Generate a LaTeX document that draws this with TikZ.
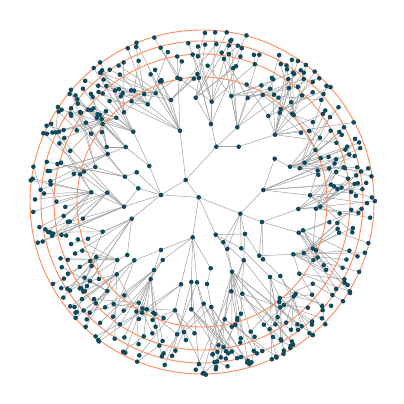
\documentclass[tikz,border=0pt]{standalone}
\definecolor{nodecol}{HTML}{0F4A5C}
\definecolor{ringcol}{HTML}{FF8A5B}
\definecolor{edgecol}{HTML}{A0A0A0}
\tikzset{
  dot/.style={circle,fill=nodecol,draw=none,inner sep=0pt,minimum size=4.6pt},
  edge/.style={draw=edgecol,line width=0.5pt},
  ring/.style={draw=ringcol,line width=0.9pt}
}
\gdef\alldots{}
\protected\def\dotat#1{\node[dot] (#1-dot) at (#1) {};}
\newcommand\adddot[1]{\xdef\alldots{\alldots\dotat{#1}}}
\newcommand\hubnode[5]{%
  \coordinate (#1) at (#2,#3);
  \adddot{#1}%
  \draw[edge] (#4) -- (#1);
  \pgfmathsetmacro\hubang{atan2(#3-202,#2-202)}
  \foreach \i in {1,...,#5}{%
    \pgfmathsetmacro\leafang{\hubang+(rnd-0.5)*40}
    \pgfmathsetmacro\leafrad{119+44*rnd}
    \pgfmathsetmacro\leafx{202+\leafrad*cos(\leafang)}
    \pgfmathsetmacro\leafy{202+\leafrad*sin(\leafang)}
    \coordinate (#1-\i) at (\leafx,\leafy);
    \adddot{#1-\i}%
    \pgfmathtruncatemacro\leafpar{rnd<0.3 ? 1 : 0}
    \ifnum\leafpar=1
      \draw[edge] (#4) -- (#1-\i);
    \else
      \draw[edge] (#1) -- (#1-\i);
    \fi
    \pgfmathtruncatemacro\nsub{floor(rnd*3)}
    \ifnum\nsub>0
      \foreach \j in {1,...,\nsub}{%
        \pgfmathsetmacro\subang{\leafang+(rnd-0.5)*16}
        \pgfmathsetmacro\subrad{\leafrad+6+rnd*(168-\leafrad)}
        \pgfmathsetmacro\subx{202+\subrad*cos(\subang)}
        \pgfmathsetmacro\suby{202+\subrad*sin(\subang)}
        \coordinate (#1-\i-\j) at (\subx,\suby);
        \adddot{#1-\i-\j}%
        \pgfmathtruncatemacro\subpar{rnd<0.3 ? 2 : (rnd<0.55 ? 1 : 0)}
        \ifcase\subpar
          \draw[edge] (#1-\i) -- (#1-\i-\j);
        \or
          \draw[edge] (#1) -- (#1-\i-\j);
        \or
          \draw[edge] (#4) -- (#1-\i-\j);
        \fi
      }%
    \fi
  }%
}
\begin{document}
\begin{tikzpicture}[x=1pt,y=-1pt]
\useasboundingbox (0,0) rectangle (404,404);
\pgfmathsetseed{20240}
% inner structure
\foreach \n/\x/\y in {R/198.7/197.3,
  a1/185.7/180, a2/161/195, a3/240.3/213.7, a4/192.7/237.3, a5/215.7/234.7,
  b1/180/130.7, b2/216.3/146.7, b3/238.7/146.7,
  c1/149.3/166, c2/138.3/188.3, c3/136.7/172.3, c4/131.7/218.7,
  d1/262/222, d2/263.3/190, d3/274.7/158.7,
  e1/245/234, e2/223.3/242.3, e3/227.3/249, e4/241.3/248.3,
  f1/161/250, f2/162.7/260, f3/210.7/268.3, f4/181/284.3,
  g1/211/124, g2/237.3/127.3, g3/133.3/131.7, g4/125.7/147, g5/124/206.7,
  g6/125/176.7, g7/134.3/260.3, g8/127.3/255, g9/154/270, g10/150.7/279,
  g11/191.3/282, g12/197/282.3, g13/232/271.7, g14/243.7/260.3, g15/259.3/255.7,
  g16/263/259.3, g17/270/277, g18/280.3/276, g19/293.3/254.3, g20/298.7/232.7,
  g21/298.3/209, g22/290/166.7, g23/275/134.7, g24/207/284, g25/117.3/260}
  {\coordinate (\n) at (\x,\y); \adddot{\n}}
\foreach \p/\c in {R/a1, R/a2, R/a3, R/a4, R/a5, a1/a2,
  a1/b1, a1/b2, b2/b3, a2/c1, a2/c2, a2/c3, a2/c4,
  a3/d1, a3/d2, d2/d3, a3/e1, a5/e2, a5/e3, a3/e4, a4/f1, a4/f2, a4/f3, a4/f4,
  b2/g1, b2/g2, c1/g3, c1/g4, c2/g5, c3/g6, f1/g7, c4/g8, f2/g9, f2/g10,
  a4/g11, a4/g12, e3/g13, e1/g14, e1/g15, d1/g16, e4/g17, g16/g18, g15/g19,
  d1/g20, d1/g21, d3/g22, b3/g23, f3/g24, g8/g25,
  a3/e2, a5/e1, a3/e3, e2/g14, a5/e4, f1/g9, d1/g15, e2/g13, c2/g6, a2/g5}
  {\draw[edge] (\p) -- (\c);}
% hubs with their leaves
\hubnode{H1}{107.3}{192.7}{g5}{5}
\hubnode{H2}{91.3}{192.3}{g5}{5}
\hubnode{H3}{95.3}{167}{g6}{5}
\hubnode{H4}{107.7}{154}{g4}{4}
\hubnode{H5}{106.7}{147}{g4}{4}
\hubnode{H6}{116.3}{117.7}{g3}{4}
\hubnode{H7}{101.7}{119}{g3}{4}
\hubnode{H8}{124}{112.3}{g3}{4}
\hubnode{H9}{147.7}{104.3}{b1}{5}
\hubnode{H10}{155.7}{93.3}{b1}{4}
\hubnode{H11}{171}{100}{b1}{5}
\hubnode{H12}{195.7}{97.7}{g1}{5}
\hubnode{H13}{211.7}{101.7}{g1}{5}
\hubnode{H14}{231.3}{96}{g2}{4}
\hubnode{H15}{247.7}{98}{g2}{4}
\hubnode{H16}{262.7}{95}{g2}{4}
\hubnode{H17}{268.3}{116}{g23}{4}
\hubnode{H18}{279.7}{112.7}{g23}{4}
\hubnode{H19}{293.7}{115}{g23}{6}
\hubnode{H20}{299.7}{168.3}{g22}{5}
\hubnode{H21}{304.7}{162.7}{g22}{5}
\hubnode{H22}{310}{195.3}{d2}{5}
\hubnode{H23}{316}{208.7}{g21}{4}
\hubnode{H24}{320.3}{206.7}{g21}{4}
\hubnode{H25}{303}{230.3}{g20}{5}
\hubnode{H26}{303.7}{253}{g19}{5}
\hubnode{H27}{299.3}{273.7}{g19}{5}
\hubnode{H28}{293.7}{296.3}{g18}{5}
\hubnode{H29}{279.7}{298}{g17}{6}
\hubnode{H30}{241}{313.7}{g14}{4}
\hubnode{H31}{237.3}{320}{g13}{3}
\hubnode{H32}{224.7}{319.3}{g13}{3}
\hubnode{H33}{211.3}{307}{g24}{3}
\hubnode{H34}{203.7}{303.7}{g12}{3}
\hubnode{H35}{191.3}{309.3}{g11}{3}
\hubnode{H36}{175}{310.3}{f4}{4}
\hubnode{H37}{153.3}{312.7}{g10}{3}
\hubnode{H38}{146.7}{309.3}{g10}{3}
\hubnode{H39}{138.7}{302.7}{g9}{4}
\hubnode{H40}{116.7}{274.3}{g7}{5}
\hubnode{H41}{107.3}{291}{g25}{5}
\hubnode{H42}{96.3}{257}{g25}{5}
\hubnode{H43}{102.7}{231.7}{c4}{6}
\hubnode{H44}{242.3}{293.7}{g13}{3}
\hubnode{H45}{231.3}{291.3}{g13}{2}
% rings above the edges, dots on top
\foreach \r in {125,148,161,172}{\draw[ring] (202,202) circle[radius=\r pt];}
\alldots
\end{tikzpicture}
\end{document}
